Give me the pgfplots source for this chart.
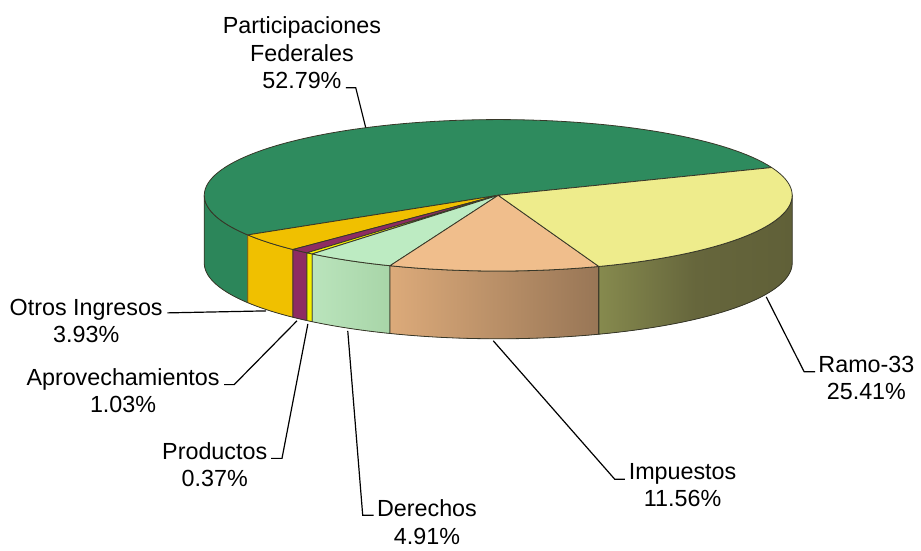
\documentclass[border=0pt]{standalone}
\usepackage{fontspec}
\setmainfont{Liberation Sans}
\usepackage{pgfplots}
\pgfplotsset{compat=1.18}
\usepgfplotslibrary{fillbetween}

\definecolor{cPF}{RGB}{46,139,94}
\definecolor{cPFw}{RGB}{44,134,90}
\definecolor{cR}{RGB}{238,236,140}
\definecolor{cRwL}{RGB}{134,138,78}
\definecolor{cRwM}{RGB}{102,102,60}
\definecolor{cRwR}{RGB}{96,96,56}
\definecolor{cI}{RGB}{240,190,140}
\definecolor{cIwL}{RGB}{220,170,122}
\definecolor{cIwR}{RGB}{152,118,86}
\definecolor{cD}{RGB}{189,235,194}
\definecolor{cDwL}{RGB}{186,228,188}
\definecolor{cDwR}{RGB}{168,213,168}
\definecolor{cP}{RGB}{245,240,0}
\definecolor{cA}{RGB}{142,44,98}
\definecolor{cO}{RGB}{240,192,0}
\definecolor{edge}{RGB}{55,55,40}

\newcommand{\lbl}{\fontsize{11.7}{13.7}\selectfont}

% top face of a slice: colour, from angle, to angle
\newcommand{\topface}[3]{%
  \addplot[fill=#1, draw=edge, line width=0.4pt, line join=round,
    domain=#2:#3, samples=90, variable=\t]
    ({500+295*cos(\t)},{196-76*sin(\t)}) -- (axis cs:500,196) -- cycle;}
% front wall of a slice: name, from, to, left colour, middle colour, right colour
\newcommand{\wall}[6]{%
  \addplot[draw=none, name path=t#1, domain=#2:#3, samples=60, variable=\t]
    ({500+295*cos(\t)},{196-76*sin(\t)});
  \addplot[draw=none, name path=b#1, domain=#2:#3, samples=60, variable=\t]
    ({500+295*cos(\t)},{264-76*sin(\t)});
  \addplot[left color=#4, right color=#6, middle color=#5, draw=edge, line width=0.4pt, line join=round]
    fill between[of=t#1 and b#1];}

\begin{document}
\begin{tikzpicture}
% shares (percent), clockwise from Ramo-33
\pgfmathsetmacro{\aR}{21.5}
\pgfmathsetmacro{\aI}{\aR-25.41*3.6}
\pgfmathsetmacro{\aD}{\aI-11.56*3.6}
\pgfmathsetmacro{\aP}{\aD-4.91*3.6}
\pgfmathsetmacro{\aA}{\aP-0.37*3.6}
\pgfmathsetmacro{\aO}{\aA-1.03*3.6}
\pgfmathsetmacro{\aF}{\aO-3.93*3.6}
\pgfmathsetmacro{\aE}{\aF-52.79*3.6}
\begin{axis}[
  x=0.5pt, y=0.5pt, y dir=reverse,
  xmin=0, xmax=921, ymin=0, ymax=546,
  hide axis, clip=false]
\addplot[draw=none] coordinates {(0,0) (921,546)};
% walls
\wall{F}{-180}{\aF}{cPFw}{cPFw}{cPFw}
\wall{O}{\aF}{\aO}{cO}{cO}{cO}
\wall{A}{\aO}{\aA}{cA}{cA}{cA}
\wall{P}{\aA}{\aP}{cP}{cP}{cP}
\wall{D}{\aP}{\aD}{cDwL}{cDwL!50!cDwR}{cDwR}
\wall{I}{\aD}{\aI}{cIwL}{cIwL!50!cIwR}{cIwR}
\wall{R}{\aI}{0}{cRwL}{cRwM}{cRwR}
% tops
\topface{cPF}{\aE}{\aF}
\topface{cO}{\aF}{\aO}
\topface{cA}{\aO}{\aA}
\topface{cP}{\aA}{\aP}
\topface{cD}{\aP}{\aD}
\topface{cI}{\aD}{\aI}
\topface{cR}{\aI}{\aR}
% leader lines
\addplot[black, line width=0.6pt] coordinates {(347,88) (357,88) (367,128)};
\addplot[black, line width=0.6pt] coordinates {(168,314) (267,312)};
\addplot[black, line width=0.6pt] coordinates {(225,386) (235,386) (298,322)};
\addplot[black, line width=0.6pt] coordinates {(272,460) (283,460) (309,325)};
\addplot[black, line width=0.6pt] coordinates {(349,332) (364,517) (375,517)};
\addplot[black, line width=0.6pt] coordinates {(627,481) (617,481) (495,342)};
\addplot[black, line width=0.6pt] coordinates {(818,373) (807,373) (769,298)};
% labels
\node[font=\lbl, align=center] at (axis cs:303,53) {Participaciones\\Federales\\52.79\%};
\node[font=\lbl, align=center] at (axis cs:86.5,322) {Otros Ingresos\\3.93\%};
\node[font=\lbl, align=center] at (axis cs:123.5,392) {Aprovechamientos\\1.03\%};
\node[font=\lbl, align=center] at (axis cs:215.5,466) {Productos\\0.37\%};
\node[font=\lbl, align=center] at (axis cs:428.5,524) {Derechos\\4.91\%};
\node[font=\lbl, align=center] at (axis cs:685,487) {Impuestos\\11.56\%};
\node[font=\lbl, align=center] at (axis cs:869.5,379) {Ramo-33\\25.41\%};
\end{axis}
\end{tikzpicture}
\end{document}
